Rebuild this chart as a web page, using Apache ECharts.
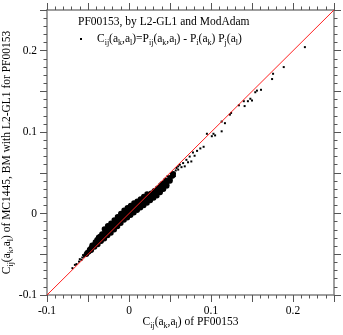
<!DOCTYPE html>
<html>
<head>
<meta charset="utf-8">
<script src="https://cdn.jsdelivr.net/npm/echarts@6/dist/echarts.min.js"></script>
<style>
html,body{margin:0;padding:0;background:#fff;}
#main{width:343px;height:335px;}
</style>
</head>
<body>
<div id="main"></div>
<script>
// axis range and ticks
var axisMin = -0.1, axisMax = 0.25, majorStep = 0.05;
var diagLine = [-0.1, 0.25];

// sparse points at the low end
var tailLow = [
  [-0.069,-0.067],[-0.066,-0.063],[-0.064,-0.062],[-0.061,-0.059],
  [-0.060,-0.056],[-0.058,-0.057],[-0.057,-0.054],[-0.055,-0.053],
  [-0.052,-0.051],[-0.056,-0.051]
];

// the dense band, read column by column
var bandPts = [
  [-0.052,-0.050],[-0.051,-0.048],
  [-0.049,-0.047],[-0.048,-0.044],
  [-0.046,-0.045],[-0.046,-0.042],[-0.045,-0.039],
  [-0.042,-0.041],[-0.042,-0.038],[-0.041,-0.035],
  [-0.038,-0.038],[-0.038,-0.035],[-0.039,-0.032],[-0.037,-0.029],
  [-0.034,-0.034],[-0.034,-0.031],[-0.035,-0.028],[-0.033,-0.025],
  [-0.030,-0.031],[-0.030,-0.028],[-0.031,-0.025],[-0.029,-0.022],[-0.030,-0.019],
  [-0.026,-0.027],[-0.026,-0.024],[-0.027,-0.021],[-0.025,-0.018],[-0.026,-0.015],
  [-0.022,-0.024],[-0.022,-0.021],[-0.023,-0.018],[-0.021,-0.015],[-0.022,-0.012],
  [-0.018,-0.020],[-0.018,-0.017],[-0.019,-0.014],[-0.017,-0.011],[-0.018,-0.008],
  [-0.014,-0.016],[-0.014,-0.013],[-0.015,-0.010],[-0.013,-0.007],[-0.014,-0.004],
  [-0.010,-0.012],[-0.010,-0.009],[-0.011,-0.006],[-0.009,-0.003],[-0.010,0.000],
  [-0.006,-0.008],[-0.006,-0.005],[-0.007,-0.002],[-0.005,0.001],[-0.006,0.004],
  [-0.002,-0.005],[-0.002,-0.002],[-0.003,0.001],[-0.001,0.004],[-0.002,0.007],
  [0.002,-0.002],[0.002,0.001],[0.001,0.004],[0.003,0.007],[0.002,0.010],
  [0.006,0.001],[0.006,0.004],[0.005,0.007],[0.007,0.010],[0.006,0.013],
  [0.010,0.004],[0.010,0.007],[0.009,0.010],[0.011,0.013],[0.010,0.015],
  [0.014,0.007],[0.014,0.010],[0.013,0.013],[0.015,0.016],[0.014,0.018],
  [0.018,0.010],[0.018,0.013],[0.017,0.016],[0.019,0.019],[0.018,0.021],
  [0.022,0.013],[0.022,0.016],[0.021,0.019],[0.023,0.022],[0.022,0.024],
  [0.026,0.016],[0.026,0.019],[0.025,0.022],[0.027,0.025],
  [0.030,0.019],[0.030,0.022],[0.029,0.025],[0.031,0.028],
  [0.034,0.022],[0.034,0.025],[0.033,0.028],[0.035,0.031],
  [0.038,0.026],[0.038,0.029],[0.037,0.032],[0.039,0.035],
  [0.042,0.030],[0.042,0.034],[0.041,0.037],
  [0.046,0.034],[0.046,0.038],[0.045,0.041],
  [0.050,0.040],[0.050,0.044],
  [0.053,0.046],[0.054,0.049]
];

// scattered points around and above the band
var sparseHigh = [
  [0.054,0.050],[0.058,0.056],[0.060,0.054],[0.062,0.060],[0.064,0.057],
  [0.066,0.062],[0.068,0.058],[0.070,0.066],[0.072,0.063],[0.074,0.070],
  [0.076,0.064],[0.078,0.075],[0.080,0.071],[0.083,0.077],[0.087,0.080],
  [0.091,0.082],[0.095,0.098],[0.101,0.095],[0.103,0.098],[0.105,0.096],
  [0.113,0.101],[0.113,0.113],[0.117,0.111],[0.123,0.1215],[0.1245,0.1236],
  [0.134,0.133],[0.140,0.138],[0.141,0.132],[0.145,0.138],[0.148,0.141],
  [0.150,0.139],[0.154,0.149],[0.156,0.151],[0.161,0.152],[0.1745,0.1652],
  [0.1757,0.1717],[0.1887,0.1799],[0.2145,0.2044],
  [0.044,0.030],[0.048,0.035],[0.052,0.041],[0.056,0.046],[0.040,0.027],
  [0.047,0.046],[0.051,0.049],[0.057,0.053],[0.060,0.058]
];

var serif = 'Liberation Serif';
var rich = {
  n: {fontFamily: serif, fontSize: 11.5, color: '#000', lineHeight: 16, verticalAlign: 'middle'},
  s: {fontFamily: serif, fontSize: 8, color: '#000', lineHeight: 8, verticalAlign: 'bottom'},
  g: {width: 10}
};
var cij = '{n|C}{s|ij}{n|(a}{s|k}{n|,a}{s|l}{n|)';

function tickLabel(v) {
  var r = Math.round(v * 100);
  if (r % 10 !== 0) return '';
  return r === 0 ? '0' : (r / 100).toString();
}

function makeAxis(pos, showLabel, extra) {
  var a = {
    type: 'value',
    position: pos,
    min: axisMin,
    max: axisMax,
    interval: majorStep,
    axisLine: {onZero: false, lineStyle: {color: '#808080', width: 1.5}},
    axisTick: {show: true, inside: false, length: 7, lineStyle: {color: '#555', width: 1}},
    minorTick: {show: true, splitNumber: 5, length: 3.5, lineStyle: {color: '#555', width: 1}},
    splitLine: {show: false},
    axisLabel: {
      show: showLabel,
      formatter: tickLabel,
      fontFamily: serif,
      fontSize: 11.5,
      color: '#000',
      margin: 10
    }
  };
  for (var k in extra) a[k] = extra[k];
  return a;
}

var myChart = echarts.init(document.getElementById('main'));
myChart.setOption({
  animation: false,
  title: {
    text: 'PF00153, by L2-GL1 and ModAdam',
    left: 78,
    top: 16,
    padding: 0,
    textStyle: {fontFamily: serif, fontSize: 11.5, fontWeight: 'normal', color: '#000'}
  },
  legend: {
    data: ['cij'],
    left: 80,
    top: 33,
    padding: 0,
    icon: 'rect',
    itemWidth: 2,
    itemHeight: 2,
    formatter: function () {
      return '{g| }{n|C}{s|ij}{n|(a}{s|k}{n|,a}{s|l}{n|)=P}{s|ij}{n|(a}{s|k}{n|,a}{s|l}{n|) - P}{s|i}{n|(a}{s|k}{n|) P}{s|j}{n|(a}{s|l}{n|)}';
    },
    textStyle: {rich: rich}
  },
  grid: {left: 47, right: 9, top: 10, bottom: 40, outerBoundsMode: 'none'},
  xAxis: [
    makeAxis('bottom', true, {
      name: cij + ' of PF00153}',
      nameLocation: 'middle',
      nameGap: 19,
      nameMoveOverlap: false,
      nameTextStyle: {rich: rich}
    }),
    makeAxis('top', false, {})
  ],
  yAxis: [
    makeAxis('left', true, {
      name: cij + ' of MC1445, BM with L2-GL1 for PF00153}',
      nameLocation: 'middle',
      nameGap: 32,
      nameMoveOverlap: false,
      nameTextStyle: {rich: rich}
    }),
    makeAxis('right', false, {})
  ],
  series: [
    {
      name: 'cij',
      type: 'scatter',
      symbol: 'circle',
      symbolSize: 5.5,
      itemStyle: {color: '#000', opacity: 1, borderWidth: 0},
      data: bandPts,
      z: 2
    },
    {
      name: 'cij',
      type: 'scatter',
      symbol: 'rect',
      symbolSize: 2,
      itemStyle: {color: '#000', opacity: 1, borderWidth: 0},
      data: tailLow.concat(sparseHigh),
      z: 2
    },
    {
      type: 'line',
      data: [[diagLine[0], diagLine[0]], [diagLine[1], diagLine[1]]],
      showSymbol: false,
      lineStyle: {color: '#ff2020', width: 1},
      z: 3
    }
  ]
});
</script>
</body>
</html>
